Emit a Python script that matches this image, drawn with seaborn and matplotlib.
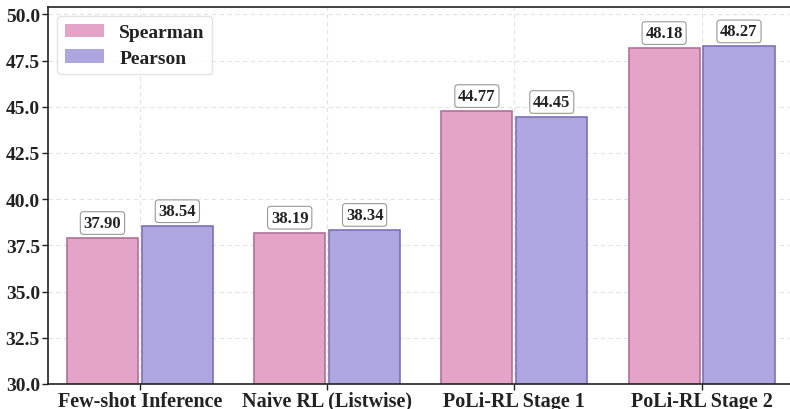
import pandas as pd
import matplotlib.pyplot as plt
import seaborn as sns

# Data
methods = ["Few-shot Inference", "Naive RL (Listwise)", "PoLi-RL Stage 1", "PoLi-RL Stage 2"]
spearman = [37.90, 38.19, 44.77, 48.18]
pearson = [38.54, 38.34, 44.45, 48.27]

df = pd.DataFrame({
    "Method": methods * 2,
    "Metric": ["Spearman"] * 4 + ["Pearson"] * 4,
    "Score": spearman + pearson,
})

sns.set_style("whitegrid")
plt.rcParams["font.family"] = ["Liberation Serif", "DejaVu Serif"]
plt.rcParams["font.weight"] = "bold"
plt.rcParams["xtick.bottom"] = True
plt.rcParams["ytick.left"] = True

fig = plt.figure(figsize=(7.9, 4.1), dpi=100)
ax = fig.add_axes([0.061, 0.061, 0.955, 0.9195])

palette = {"Spearman": "#E4A4C8", "Pearson": "#ADA6E0"}
edges = {"Spearman": "#B0719A", "Pearson": "#7C72B4"}

sns.barplot(data=df, x="Method", y="Score", hue="Metric", palette=palette,
            width=0.8, gap=0.05, ax=ax, linewidth=1.2, saturation=1)

# edge colors + value labels
for container, metric in zip(ax.containers, ["Spearman", "Pearson"]):
    for bar in container:
        bar.set_edgecolor(edges[metric])
        h = bar.get_height()
        ax.annotate(f"{h:.2f}", (bar.get_x() + bar.get_width() / 2, h),
                    xytext=(0, 5), textcoords="offset points",
                    ha="center", va="bottom", fontsize=12, fontweight="bold",
                    color="#222222",
                    bbox=dict(boxstyle="round,pad=0.2", fc="white", ec="#999999", lw=0.8))

ax.set_ylim(30, 50.4)
ax.set_xlim(-0.49, 3.54)
ax.set_yticks([30, 32.5, 35, 37.5, 40, 42.5, 45, 47.5, 50])
ax.set_yticklabels([f"{v:.1f}" for v in ax.get_yticks()])
ax.set_xlabel("")
ax.set_ylabel("")
ax.tick_params(axis="x", labelsize=14.5, length=4, width=1, color="#222222", pad=1)
ax.tick_params(axis="y", labelsize=14, length=4, width=1, color="#222222", pad=2)
for lbl in ax.get_xticklabels() + ax.get_yticklabels():
    lbl.set_fontweight("bold")
    lbl.set_color("#222222")

ax.grid(True, linestyle=(0, (4, 3)), color="#e3e3e3", linewidth=0.8)
ax.set_axisbelow(True)
for side in ["left", "bottom", "top", "right"]:
    ax.spines[side].set_color("#222222")
    ax.spines[side].set_linewidth(1.2)

leg = ax.legend(loc="upper left", fontsize=14, frameon=True, borderpad=0.4,
                handlelength=2.0, handletextpad=0.8, labelspacing=0.4,
                borderaxespad=0.45)
leg.get_frame().set_edgecolor("#dddddd")
for t in leg.get_texts():
    t.set_fontweight("bold")
    t.set_color("#222222")
for h in leg.legend_handles:
    h.set_edgecolor("none")

plt.savefig("out.png", dpi=100)
